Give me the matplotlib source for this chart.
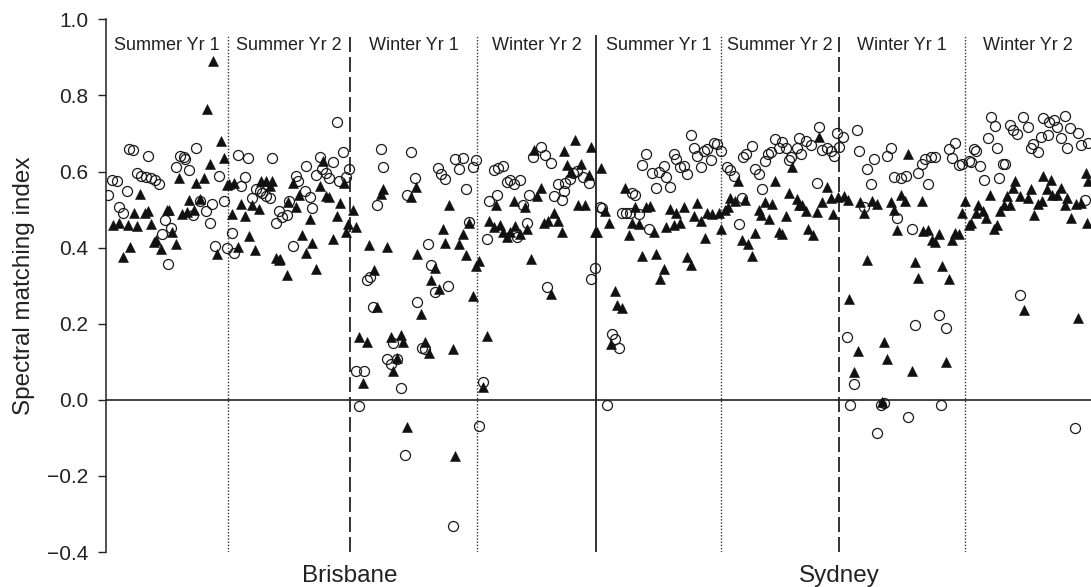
import matplotlib
matplotlib.use("Agg")
import matplotlib.pyplot as plt
import numpy as np

plt.rcParams['font.family'] = ['Liberation Sans', 'DejaVu Sans']

# ---- layout of the time axis: 8 periods (start / end in days) ----
period_edges = [0, 122, 244, 371, 490, 615, 733, 859, 985]
period_labels = ["Summer Yr 1", "Summer Yr 2", "Winter Yr 1", "Winter Yr 2",
                 "Summer Yr 1", "Summer Yr 2", "Winter Yr 1", "Winter Yr 2"]
sites = ["Brisbane", "Sydney"]

# ---- data: (position within period as fraction, spectral matching index) ----
# Filled triangles
tri_p1 = [(0.88,0.891),(0.83,0.765),(0.94,0.679),(0.97,0.635),(0.85,0.619),(0.60,0.584),(0.80,0.584),(0.74,0.569),(0.99,0.564),(0.28,0.541),(0.68,0.525),(0.77,0.529),(0.50,0.50),(0.52,0.50),(0.23,0.49),(0.32,0.49),(0.34,0.495),(0.62,0.488),(0.66,0.493),(0.72,0.50),(0.06,0.46),(0.11,0.464),(0.18,0.46),(0.25,0.457),(0.37,0.461),(0.54,0.442),(0.41,0.42),(0.39,0.415),(0.57,0.409),(0.20,0.402),(0.45,0.396),(0.14,0.376),(0.91,0.382)]
tri_p2 = [(0.78,0.628),(0.27,0.576),(0.31,0.575),(0.36,0.575),(0.34,0.561),(0.01,0.566),(0.05,0.57),(0.53,0.57),(0.75,0.561),(0.95,0.57),(0.58,0.538),(0.80,0.535),(0.83,0.532),(0.49,0.519),(0.56,0.508),(0.92,0.517),(0.11,0.515),(0.20,0.511),(0.25,0.501),(0.03,0.488),(0.14,0.482),(0.89,0.484),(0.67,0.475),(0.98,0.462),(0.97,0.442),(0.17,0.431),(0.61,0.433),(0.69,0.413),(0.86,0.422),(0.08,0.402),(0.22,0.393),(0.64,0.387),(0.39,0.373),(0.43,0.371),(0.42,0.367),(0.72,0.345),(0.48,0.327)]
tri_p3 = [(0.26,0.555),(0.24,0.541),(0.52,0.56),(0.48,0.532),(0.02,0.50),(0.78,0.513),(0.94,0.464),(0.05,0.454),(0.73,0.449),(0.89,0.435),(0.15,0.407),(0.29,0.402),(0.75,0.413),(0.86,0.409),(0.53,0.383),(0.91,0.38),(0.99,0.351),(0.19,0.34),(0.67,0.347),(0.64,0.316),(0.70,0.292),(0.97,0.274),(0.21,0.243),(0.56,0.225),(0.07,0.165),(0.13,0.152),(0.32,0.165),(0.40,0.171),(0.42,0.153),(0.59,0.153),(0.62,0.124),(0.81,0.133),(0.37,0.111),(0.34,0.075),(0.10,0.044),(0.45,-0.071),(0.83,-0.148)]
tri_p4 = [(0.82,0.683),(0.96,0.665),(0.48,0.656),(0.73,0.653),(0.76,0.616),(0.87,0.619),(0.79,0.60),(0.94,0.59),(0.54,0.557),(0.50,0.535),(0.16,0.513),(0.31,0.522),(0.40,0.507),(0.85,0.513),(0.91,0.511),(0.65,0.492),(0.68,0.47),(0.56,0.466),(0.60,0.469),(0.10,0.471),(0.14,0.455),(0.19,0.46),(0.22,0.442),(0.25,0.429),(0.28,0.442),(0.32,0.458),(0.36,0.435),(0.42,0.448),(0.71,0.442),(0.99,0.44),(0.02,0.364),(0.45,0.37),(0.62,0.279),(0.08,0.168),(0.05,0.033)]
tri_p5 = [(0.04,0.61),(0.23,0.557),(0.31,0.506),(0.40,0.508),(0.43,0.51),(0.59,0.501),(0.70,0.507),(0.81,0.517),(0.64,0.49),(0.78,0.482),(0.84,0.469),(0.89,0.49),(0.93,0.489),(0.98,0.49),(0.07,0.495),(0.10,0.464),(0.29,0.466),(0.34,0.461),(0.67,0.464),(0.62,0.46),(0.56,0.455),(0.46,0.442),(0.01,0.44),(0.26,0.433),(1.0,0.449),(0.87,0.426),(0.37,0.378),(0.48,0.382),(0.73,0.376),(0.76,0.355),(0.54,0.345),(0.51,0.318),(0.15,0.285),(0.17,0.249),(0.21,0.24),(0.12,0.146)]
tri_p6 = [(0.83,0.69),(0.60,0.612),(0.46,0.575),(0.14,0.576),(0.90,0.559),(0.58,0.544),(0.99,0.532),(0.93,0.53),(0.86,0.52),(0.08,0.53),(0.12,0.523),(0.20,0.526),(0.64,0.529),(0.66,0.513),(0.69,0.511),(0.37,0.519),(0.43,0.515),(0.72,0.495),(0.81,0.493),(0.95,0.488),(0.06,0.508),(0.03,0.50),(0.32,0.50),(0.55,0.482),(0.34,0.485),(0.41,0.476),(0.74,0.448),(0.78,0.433),(0.49,0.44),(0.52,0.435),(0.29,0.438),(0.18,0.42),(0.23,0.409),(0.26,0.378)]
tri_p7 = [(0.55,0.647),(0.04,0.535),(0.07,0.526),(0.17,0.519),(0.26,0.523),(0.30,0.515),(0.41,0.519),(0.49,0.539),(0.52,0.523),(0.66,0.523),(1.0,0.523),(0.20,0.49),(0.44,0.50),(0.98,0.49),(0.46,0.447),(0.67,0.444),(0.71,0.447),(0.79,0.435),(0.74,0.42),(0.76,0.416),(0.92,0.438),(0.95,0.435),(0.90,0.42),(0.22,0.367),(0.60,0.361),(0.82,0.352),(0.63,0.321),(0.87,0.317),(0.08,0.265),(0.36,0.153),(0.15,0.128),(0.38,0.106),(0.85,0.10),(0.12,0.073),(0.58,0.077),(0.34,-0.007)]
tri_p8 = [(0.96,0.597),(0.98,0.576),(0.62,0.588),(0.68,0.579),(0.40,0.575),(0.38,0.557),(0.65,0.553),(0.76,0.557),(0.52,0.553),(0.69,0.539),(0.73,0.538),(0.44,0.535),(0.50,0.53),(0.20,0.537),(0.33,0.535),(0.61,0.523),(0.81,0.53),(0.79,0.511),(0.88,0.515),(0.92,0.517),(0.10,0.513),(0.31,0.513),(0.36,0.513),(0.58,0.515),(0.14,0.495),(0.28,0.495),(0.09,0.49),(0.17,0.479),(0.55,0.486),(0.84,0.479),(0.97,0.466),(0.05,0.464),(0.03,0.46),(0.25,0.46),(0.23,0.449),(0.47,0.236),(0.90,0.215)]

# Open circles
circ_p1 = [(0.74,0.663),(0.19,0.659),(0.22,0.656),(0.34,0.640),(0.61,0.641),(0.64,0.637),(0.65,0.632),(0.57,0.612),(0.68,0.603),(0.25,0.597),(0.29,0.588),(0.33,0.585),(0.37,0.584),(0.40,0.579),(0.43,0.568),(0.05,0.579),(0.09,0.576),(0.93,0.588),(0.17,0.548),(0.02,0.537),(0.77,0.523),(0.87,0.515),(0.97,0.522),(0.11,0.508),(0.14,0.492),(0.82,0.497),(0.71,0.485),(0.48,0.473),(0.53,0.451),(0.85,0.464),(0.46,0.435),(0.89,0.405),(0.99,0.398),(0.51,0.358)]
circ_p2 = [(0.89,0.731),(0.94,0.650),(0.08,0.643),(0.16,0.635),(0.36,0.635),(0.75,0.637),(0.86,0.626),(0.99,0.607),(0.64,0.614),(0.77,0.606),(0.72,0.592),(0.80,0.595),(0.83,0.584),(0.91,0.576),(0.965,0.585),(0.56,0.588),(0.57,0.576),(0.14,0.585),(0.11,0.561),(0.23,0.553),(0.26,0.548),(0.28,0.544),(0.31,0.535),(0.34,0.53),(0.63,0.548),(0.67,0.532),(0.69,0.504),(0.20,0.53),(0.50,0.523),(0.42,0.497),(0.48,0.485),(0.44,0.48),(0.39,0.466),(0.03,0.439),(0.05,0.387),(0.53,0.405)]
circ_p3 = [(0.24,0.659),(0.48,0.652),(0.26,0.612),(0.51,0.584),(0.83,0.632),(0.89,0.635),(0.99,0.63),(0.97,0.612),(0.86,0.606),(0.69,0.61),(0.72,0.594),(0.75,0.581),(0.91,0.553),(0.45,0.539),(0.21,0.513),(0.94,0.467),(0.61,0.409),(0.64,0.354),(0.77,0.30),(0.67,0.283),(0.16,0.323),(0.13,0.314),(0.18,0.243),(0.53,0.258),(0.34,0.148),(0.29,0.106),(0.32,0.095),(0.37,0.108),(0.57,0.137),(0.59,0.134),(0.05,0.077),(0.11,0.075),(0.40,0.031),(0.07,-0.015),(0.43,-0.146),(0.81,-0.332)]
circ_p4 = [(0.54,0.665),(0.47,0.637),(0.57,0.644),(0.62,0.623),(0.14,0.603),(0.18,0.61),(0.22,0.614),(0.28,0.579),(0.36,0.579),(0.25,0.572),(0.31,0.566),(0.44,0.537),(0.68,0.568),(0.74,0.57),(0.78,0.581),(0.81,0.597),(0.84,0.601),(0.89,0.585),(0.94,0.57),(0.73,0.548),(0.65,0.535),(0.71,0.526),(0.17,0.537),(0.10,0.522),(0.39,0.513),(0.42,0.466),(0.34,0.427),(0.08,0.423),(0.99,0.347),(0.96,0.317),(0.59,0.296),(0.05,0.046),(0.02,-0.069)]
circ_p5 = [(0.76,0.696),(0.40,0.645),(0.37,0.616),(0.62,0.645),(0.64,0.632),(0.78,0.663),(0.81,0.641),(0.86,0.654),(0.89,0.659),(0.94,0.676),(0.97,0.672),(1.0,0.654),(0.92,0.63),(0.84,0.612),(0.67,0.612),(0.70,0.614),(0.73,0.594),(0.54,0.614),(0.45,0.597),(0.50,0.599),(0.56,0.585),(0.48,0.557),(0.59,0.56),(0.29,0.544),(0.31,0.538),(0.03,0.508),(0.05,0.504),(0.21,0.49),(0.24,0.492),(0.27,0.492),(0.34,0.488),(0.42,0.448),(0.13,0.172),(0.15,0.161),(0.18,0.137),(0.09,-0.013)]
circ_p6 = [(0.83,0.718),(0.98,0.70),(0.46,0.685),(0.52,0.678),(0.26,0.668),(0.21,0.645),(0.19,0.638),(0.66,0.687),(0.72,0.681),(0.76,0.669),(0.42,0.65),(0.40,0.645),(0.49,0.663),(0.55,0.663),(0.64,0.661),(0.68,0.645),(0.86,0.657),(0.90,0.663),(0.93,0.654),(0.96,0.641),(1.0,0.665),(0.59,0.637),(0.58,0.63),(0.37,0.628),(0.29,0.607),(0.32,0.594),(0.05,0.612),(0.08,0.603),(0.11,0.588),(0.35,0.553),(0.81,0.57),(0.18,0.53),(0.15,0.462)]
circ_p7 = [(0.14,0.709),(0.03,0.69),(0.92,0.676),(0.41,0.663),(0.16,0.654),(0.38,0.641),(0.28,0.632),(0.87,0.659),(0.90,0.635),(0.76,0.637),(0.73,0.638),(0.68,0.632),(0.66,0.621),(0.95,0.616),(0.98,0.621),(0.225,0.606),(0.63,0.597),(0.44,0.585),(0.49,0.584),(0.53,0.588),(0.25,0.566),(0.71,0.568),(0.20,0.507),(0.46,0.477),(0.58,0.448),(0.79,0.223),(0.85,0.19),(0.60,0.197),(0.06,0.164),(0.12,0.042),(0.085,-0.013),(0.33,-0.013),(0.36,-0.009),(0.81,-0.013),(0.55,-0.044),(0.30,-0.088)]
circ_p8 = [(0.21,0.743),(0.24,0.72),(0.46,0.743),(0.50,0.718),(0.36,0.723),(0.38,0.709),(0.41,0.698),(0.62,0.741),(0.67,0.729),(0.71,0.736),(0.79,0.747),(0.73,0.718),(0.83,0.714),(0.90,0.70),(0.66,0.695),(0.60,0.691),(0.76,0.687),(0.92,0.67),(0.98,0.676),(0.81,0.661),(0.54,0.672),(0.52,0.663),(0.58,0.65),(0.18,0.687),(0.25,0.663),(0.07,0.659),(0.09,0.654),(0.03,0.628),(0.05,0.626),(0.12,0.614),(0.30,0.621),(0.32,0.619),(0.15,0.579),(0.27,0.582),(0.95,0.526),(0.44,0.276),(0.87,-0.073)]

tri_periods = [tri_p1, tri_p2, tri_p3, tri_p4, tri_p5, tri_p6, tri_p7, tri_p8]
circ_periods = [circ_p1, circ_p2, circ_p3, circ_p4, circ_p5, circ_p6, circ_p7, circ_p8]


def to_xy(periods):
    xs, ys = [], []
    for k, pts in enumerate(periods):
        a, b = period_edges[k], period_edges[k + 1]
        for f, v in pts:
            xs.append(a + f * (b - a))
            ys.append(v)
    return np.array(xs), np.array(ys)


fig = plt.figure(figsize=(10.91, 5.87), dpi=100)
ax = fig.add_axes([0.0972, 0.0596, 0.9028, 0.9075])

cx, cy = to_xy(circ_periods)
tx, ty = to_xy(tri_periods)
ax.plot(cx, cy, linestyle='none', marker='o', markersize=7.2,
        markerfacecolor='none', markeredgecolor='#1a1a1a', markeredgewidth=0.9,
        zorder=3, clip_on=True)
ax.plot(tx, ty, linestyle='none', marker='^', markersize=7.0,
        markerfacecolor='#111111', markeredgecolor='#111111', markeredgewidth=0.4,
        zorder=4, clip_on=True)

ax.set_xlim(period_edges[0], period_edges[-1])
ax.set_ylim(-0.4, 1.0)

# zero line
ax.axhline(0, color='#222222', lw=1.2, zorder=2)

# period separators
top = 0.958
sep_styles = {1: 'dotted', 2: 'dashed', 3: 'dotted', 4: 'solid',
              5: 'dotted', 6: 'dashed', 7: 'dotted'}
for k, st in sep_styles.items():
    x = period_edges[k]
    if st == 'dotted':
        ax.vlines(x, -0.4, top, colors='#333333', lw=1.0, linestyles=[(0, (1, 1.3))], zorder=1)
    elif st == 'dashed':
        ax.vlines(x, -0.4, top, colors='#111111', lw=1.2, linestyles=[(0, (9, 3))], zorder=1)
    else:
        ax.vlines(x, -0.4, top, colors='#111111', lw=1.2, zorder=1)

# period labels
for k, lab in enumerate(period_labels):
    xc = 0.5 * (period_edges[k] + period_edges[k + 1])
    ax.text(xc, 0.93, lab, ha='center', va='center', fontsize=13, color='#222222')

# site labels (centred under the dashed separators)
for i, s in enumerate(sites):
    xs = period_edges[4 * i + 2]
    ax.annotate(s, xy=(xs, -0.056), xycoords=('data', 'axes fraction'),
                ha='center', va='baseline', fontsize=17.5, color='#222222',
                annotation_clip=False)

# axes styling
for sp in ['top', 'right', 'bottom']:
    ax.spines[sp].set_visible(False)
ax.spines['left'].set_bounds(-0.4, 1.0)
ax.spines['left'].set_linewidth(1.1)
ax.spines['left'].set_color('#222222')
ax.set_xticks([])
ax.set_yticks(np.arange(-0.4, 1.01, 0.2))
ax.set_yticklabels([f"{v:.1f}".replace('-', '\u2212') for v in np.arange(-0.4, 1.01, 0.2)])
ax.tick_params(axis='y', direction='out', length=5.8, width=1.0, pad=7,
               labelsize=15, colors='#222222')
ax.set_ylabel("Spectral matching index", fontsize=17.5, color='#222222')
ax.yaxis.set_label_coords(-0.072, 0.5)

fig.savefig("out.png", dpi=100)
